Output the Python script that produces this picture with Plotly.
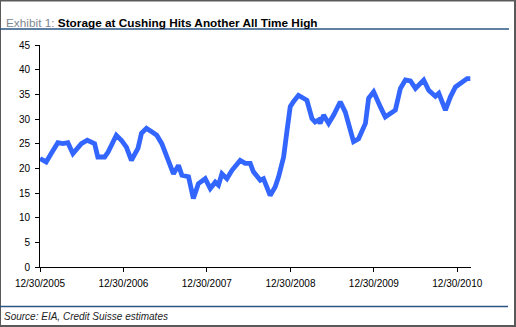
import plotly.graph_objects as go

# Weekly crude storage at Cushing (million barrels)
dates = [
    "2005-12-30", "2006-01-26", "2006-02-17", "2006-03-18", "2006-04-09", "2006-05-01",
    "2006-05-23", "2006-06-14", "2006-06-29", "2006-07-25", "2006-08-26", "2006-09-09",
    "2006-10-09", "2006-10-24", "2006-11-29", "2006-12-21", "2007-01-12", "2007-02-03",
    "2007-02-18", "2007-03-04", "2007-03-19", "2007-04-10", "2007-05-03", "2007-05-25",
    "2007-06-16", "2007-07-08", "2007-08-06", "2007-08-28", "2007-09-12", "2007-10-11",
    "2007-11-01", "2007-11-23", "2007-12-23", "2008-01-14", "2008-02-05", "2008-02-19",
    "2008-03-05", "2008-03-27", "2008-04-18", "2008-05-24", "2008-06-15", "2008-07-07",
    "2008-07-21", "2008-08-20", "2008-09-03", "2008-10-02", "2008-10-24", "2008-11-08",
    "2008-11-30", "2008-12-15", "2008-12-29", "2009-01-12", "2009-02-03", "2009-02-25",
    "2009-03-12", "2009-04-03", "2009-04-17", "2009-05-02", "2009-05-09", "2009-05-24",
    "2009-06-15", "2009-07-07", "2009-08-05", "2009-08-27", "2009-09-10", "2009-10-02",
    "2009-10-24", "2009-11-08", "2009-11-23", "2009-12-07", "2009-12-29", "2010-01-27",
    "2010-02-18", "2010-03-12", "2010-04-03", "2010-04-25", "2010-05-17", "2010-06-08",
    "2010-06-30", "2010-08-05", "2010-08-27", "2010-09-25", "2010-10-10", "2010-11-08",
    "2010-11-30", "2010-12-22", "2011-01-13", "2011-01-27", "2011-02-11", "2011-02-25",
]
storage = [
    22.0, 21.3, 23.0, 25.2, 25.0, 25.2,
    23.0, 24.0, 25.0, 25.7, 25.0, 22.3,
    22.3, 23.3, 26.7, 25.7, 24.3, 21.6,
    23.0, 24.1, 27.1, 28.1, 27.4, 26.7,
    25.0, 22.3, 18.9, 20.6, 18.6, 18.3,
    13.9, 16.9, 17.9, 15.9, 17.2, 16.6,
    18.9, 17.9, 19.6, 21.6, 21.0, 21.0,
    19.3, 17.6, 17.9, 14.5, 16.2, 18.3,
    22.3, 27.7, 32.5, 33.5, 34.8, 34.2,
    33.8, 30.1, 29.4, 29.8, 29.1, 30.8,
    29.1, 30.8, 33.5, 31.4, 28.7, 25.4,
    26.0, 27.4, 29.1, 34.2, 35.5, 32.5,
    30.4, 31.1, 31.8, 36.2, 37.9, 37.7,
    36.2, 37.9, 35.8, 34.6, 35.2, 31.8,
    34.5, 36.5, 37.2, 37.5, 38.2, 38.2,
]
tick_dates = ["2005-12-30", "2006-12-30", "2007-12-30", "2008-12-30", "2009-12-30", "2010-12-30"]
tick_labels = ["12/30/2005", "12/30/2006", "12/30/2007", "12/30/2008", "12/30/2009", "12/30/2010"]
y_ticks = [0, 5, 10, 15, 20, 25, 30, 35, 40, 45]

FONT = "Liberation Sans, Arial, sans-serif"
PW, PH = 431, 222  # plot area size in px (for paper-relative placement)


def px_x(p):
    return p / PW


def px_y(p):
    return p / PH


fig = go.Figure()
fig.add_trace(go.Scatter(
    x=dates, y=storage, mode="lines",
    line=dict(color="#3366FF", width=4.8),
    hoverinfo="skip", showlegend=False,
))

frame = dict(color="#5a5a5a", width=2)
rule = dict(color="#2A5585", width=1.5)

fig.update_layout(
    width=516, height=327,
    margin=dict(l=40, r=45, t=45, b=60),
    paper_bgcolor="white", plot_bgcolor="white",
    font=dict(family=FONT, size=10, color="black"),
    xaxis=dict(
        type="date", range=["2005-12-30", "2011-02-28"],
        tickmode="array", tickvals=tick_dates, ticktext=tick_labels,
        showgrid=False, zeroline=False, showline=True, linecolor="black", linewidth=1,
        ticks="outside", ticklen=4, tickcolor="black", tickwidth=1,
        tickfont=dict(size=10, family=FONT, color="black"),
        ticklabelstandoff=3,
    ),
    yaxis=dict(
        range=[0, 45], tickmode="array", tickvals=y_ticks,
        showgrid=False, zeroline=False, showline=True, linecolor="black", linewidth=1,
        ticks="outside", ticklen=4, tickcolor="black", tickwidth=1,
        tickfont=dict(size=10, family=FONT, color="black"),
        ticklabelstandoff=3,
    ),
    shapes=[
        # outer frame
        dict(type="line", xref="paper", yref="paper", x0=px_x(-40), x1=px_x(-40),
             y0=px_y(-60), y1=1 + px_y(45), line=frame),
        dict(type="line", xref="paper", yref="paper", x0=1 + px_x(44), x1=1 + px_x(44),
             y0=px_y(-60), y1=1 + px_y(45), line=frame),
        dict(type="line", xref="paper", yref="paper", x0=px_x(-40), x1=1 + px_x(45),
             y0=1 + px_y(44.5), y1=1 + px_y(44.5), line=frame),
        dict(type="line", xref="paper", yref="paper", x0=px_x(-40), x1=1 + px_x(45),
             y0=px_y(-59), y1=px_y(-59), line=frame),
        # title underline
        dict(type="line", xref="paper", yref="paper", x0=px_x(-40), x1=1 + px_x(38),
             y0=1 + px_y(16), y1=1 + px_y(16), line=rule),
        # source divider
        dict(type="line", xref="paper", yref="paper", x0=px_x(-40), x1=1 + px_x(37),
             y0=px_y(-39.5), y1=px_y(-39.5), line=rule),
    ],
    annotations=[
        dict(xref="paper", yref="paper", x=px_x(-36), y=1 + px_y(22.5), xanchor="left", yanchor="middle",
             text="<span style='color:#7f8790'>Exhibit 1: </span><b>Storage at Cushing Hits Another All Time High</b>",
             showarrow=False, font=dict(family=FONT, size=11.8, color="black")),
        dict(xref="paper", yref="paper", x=px_x(-38), y=px_y(-49.5), xanchor="left", yanchor="middle",
             text="<i>Source: EIA, Credit Suisse estimates</i>",
             showarrow=False, font=dict(family=FONT, size=10, color="#222222")),
    ],
)

fig.write_html("out.html")
